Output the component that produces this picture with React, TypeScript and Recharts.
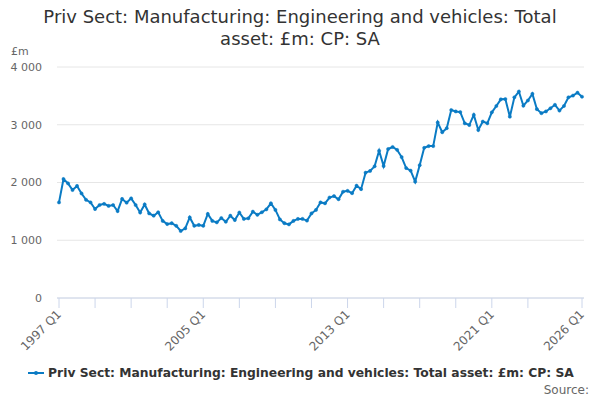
import React from 'react';
import { LineChart, Line, XAxis, YAxis, CartesianGrid } from 'recharts';

// quarterly values, £m
const values1997to2004 = [
  1655, 2060, 1985, 1870, 1940, 1810, 1700, 1655,
  1540, 1610, 1630, 1595, 1610, 1505, 1715, 1650,
  1725, 1610, 1480, 1620, 1465, 1425, 1485, 1335,
  1280, 1295, 1250, 1160, 1205, 1395, 1250, 1265,
];
const values2005to2012 = [
  1250, 1455, 1335, 1310, 1385, 1320, 1425, 1350,
  1480, 1370, 1380, 1495, 1440, 1485, 1535, 1640,
  1525, 1360, 1295, 1275, 1335, 1370, 1370, 1340,
  1465, 1525, 1655, 1640, 1740, 1765, 1710, 1840,
];
const values2013to2020 = [
  1855, 1815, 1945, 1885, 2170, 2200, 2280, 2550,
  2285, 2580, 2615, 2565, 2440, 2250, 2205, 2015,
  2300, 2600, 2630, 2630, 3040, 2870, 2940, 3255,
  3230, 3220, 3025, 2995, 3170, 2910, 3055, 3025,
];
const values2021to2026 = [
  3215, 3325, 3440, 3445, 3140, 3475, 3575, 3330,
  3420, 3535, 3270, 3200, 3230, 3285, 3345, 3245,
  3325, 3475, 3505, 3555, 3485,
];

const firstYear = 1997;
const tickQuarters = [
  '1997 Q1', '1999 Q1', '2001 Q1', '2003 Q1', '2005 Q1', '2007 Q1', '2009 Q1',
  '2011 Q1', '2013 Q1', '2015 Q1', '2017 Q1', '2019 Q1', '2021 Q1', '2023 Q1', '2026 Q1',
];
const labelQuarters = ['1997 Q1', '2005 Q1', '2013 Q1', '2021 Q1', '2026 Q1'];
const yTicks = [0, 1000, 2000, 3000, 4000];

const seriesName = 'Priv Sect: Manufacturing: Engineering and vehicles: Total asset: £m: CP: SA';
const lineColor = '#0a7bc4';
const font = '"DejaVu Sans", sans-serif';

const values = [...values1997to2004, ...values2005to2012, ...values2013to2020, ...values2021to2026];
const data = values.map((v, i) => ({
  quarter: `${firstYear + Math.floor(i / 4)} Q${(i % 4) + 1}`,
  value: v,
}));

const formatThousands = (v: number) => (v >= 1000 ? `${Math.floor(v / 1000)} ${String(v % 1000).padStart(3, '0')}` : `${v}`);

const QuarterTick = (props: any) => {
  const { x, y, payload } = props;
  if (!labelQuarters.includes(payload.value)) return null;
  const ax = x + 3;
  const ay = y + 5;
  return (
    <text
      x={ax}
      y={ay}
      transform={`rotate(-45 ${ax} ${ay})`}
      textAnchor="end"
      fontSize={12}
      fontFamily={font}
      fill="#666"
    >
      {payload.value}
    </text>
  );
};

export default function App() {
  return (
    <div style={{ position: 'absolute', left: 0, top: 0, width: 600, height: 400, background: '#fff', fontFamily: font }}>
      <div style={{ position: 'absolute', left: 0, top: 6, width: 600, textAlign: 'center', fontSize: 18, lineHeight: '22px', color: '#333' }}>
        Priv Sect: Manufacturing: Engineering and vehicles: Total
        <br />
        asset: £m: CP: SA
      </div>
      <div style={{ position: 'absolute', left: 11, top: 45, fontSize: 11, color: '#666' }}>£m</div>
      <LineChart width={600} height={400} data={data} margin={{ top: 67, right: 16, bottom: 42, left: 0 }}>
        <CartesianGrid vertical={false} stroke="#e6e6e6" />
        <XAxis
          dataKey="quarter"
          ticks={tickQuarters}
          interval={0}
          tick={<QuarterTick />}
          tickSize={10}
          tickLine={{ stroke: '#ccd6eb' }}
          axisLine={{ stroke: '#ccd6eb' }}
          padding={{ left: 2, right: 2 }}
          height={60}
        />
        <YAxis
          domain={[0, 4000]}
          ticks={yTicks}
          width={57}
          axisLine={false}
          tickLine={false}
          tickSize={0}
          tickMargin={15}
          tickFormatter={formatThousands}
          tick={{ fontSize: 11, fill: '#666', fontFamily: font }}
        />
        <Line
          type="linear"
          dataKey="value"
          stroke={lineColor}
          strokeWidth={2}
          dot={{ r: 1.6, fill: lineColor, stroke: lineColor, strokeWidth: 0.5 }}
          isAnimationActive={false}
        />
      </LineChart>
      <div style={{ position: 'absolute', left: 0, top: 365, width: 600, display: 'flex', justifyContent: 'center', alignItems: 'center' }}>
        <svg width={20} height={16} style={{ marginRight: 2 }}>
          <line x1={2} y1={8} x2={18} y2={8} stroke={lineColor} strokeWidth={2} />
          <circle cx={10} cy={8} r={2} fill={lineColor} />
        </svg>
        <span style={{ fontSize: 12.3, fontWeight: 'bold', color: '#333' }}>{seriesName}</span>
      </div>
      <div style={{ position: 'absolute', right: 11, top: 383, fontSize: 12, color: '#666' }}>Source:</div>
    </div>
  );
}
